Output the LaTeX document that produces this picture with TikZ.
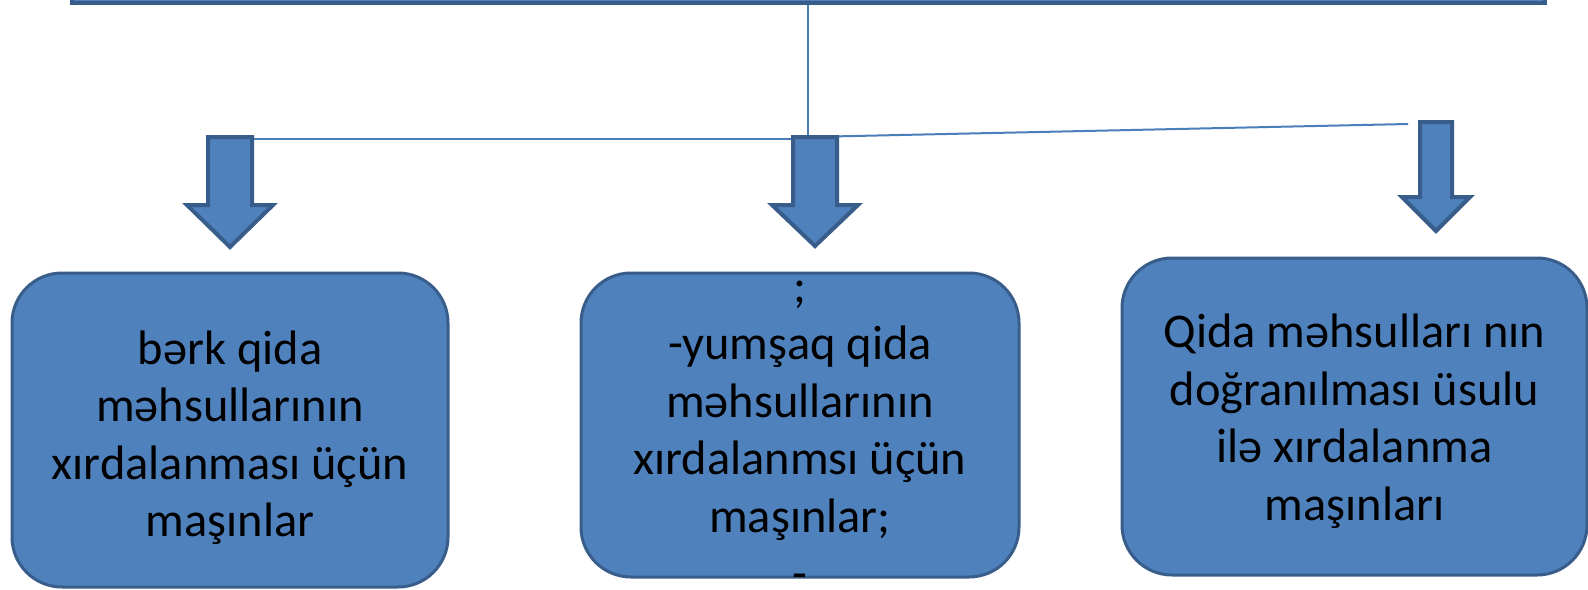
\documentclass[tikz,border=0pt]{standalone}
\usepackage{fontspec}
\setmainfont{Carlito}
\definecolor{fillb}{HTML}{4F81BD}
\definecolor{edgeb}{HTML}{385D8A}
\definecolor{lineb}{HTML}{4A7EBB}
\begin{document}
\begin{tikzpicture}[x=0.5pt,y=-0.5pt,
  box/.style={draw=edgeb, fill=fillb, line width=1.5pt, rounded corners=25pt, inner sep=0pt},
  bar/.style={draw=edgeb, fill=fillb, line width=2pt, inner sep=0pt},
  txt/.style={align=center, font=\fontsize{24.2}{28.75}\selectfont, inner sep=0pt, text=black},
  conn/.style={draw=lineb, line width=1pt},
  barrow/.style={draw=edgeb, fill=fillb, line width=2pt, line join=miter}]
\useasboundingbox (0,0) rectangle (1588,589);
\fill[white] (0,0) rectangle (1588,589);
% top bar
\node[bar, minimum width=736.5pt, minimum height=20pt, anchor=south] (top) at (808,5) {};
% connectors
\coordinate (j) at (808,137);
\coordinate (jl) at (808,139);
\coordinate (lend) at (251,139);
\coordinate (rend) at (1408,124);
\draw[conn] (top) -- (j);
\draw[conn] (lend) -- (jl);
\draw[conn] (j) -- (rend);
% block arrows
\draw[barrow] (208,137) -- (252,137) -- (252,205) -- (273,205) -- (230,247) -- (187,205) -- (208,205) -- cycle;
\draw[barrow] (793,137) -- (837,137) -- (837,205) -- (858,205) -- (815,246) -- (772,205) -- (793,205) -- cycle;
\draw[barrow] (1420,122) -- (1452,122) -- (1452,197) -- (1470,197) -- (1436,231) -- (1402,197) -- (1420,197) -- cycle;
% boxes
\node[box, minimum width=218pt, minimum height=157pt] (b1) at (230,430) {};
\node[box, minimum width=219pt, minimum height=152pt] (b2) at (800,425) {};
\node[box, minimum width=232.5pt, minimum height=158.5pt] (b3) at (1354.5,416.5) {};
% texts
\node[txt] (t1) at ([yshift=-4pt]b1.center) {bərk qida\\məhsullarının\\xırdalanması üçün\\maşınlar};
\node[txt] (t2) at ([yshift=-5pt]b2.center) {;\\-yumşaq qida\\məhsullarının\\xırdalanmsı üçün\\maşınlar;\\-};
\node[txt] (t3) at ([yshift=-2.5pt]b3.center) {Qida məhsulları nın\\doğranılması üsulu\\ilə xırdalanma\\maşınları};
\end{tikzpicture}
\end{document}
